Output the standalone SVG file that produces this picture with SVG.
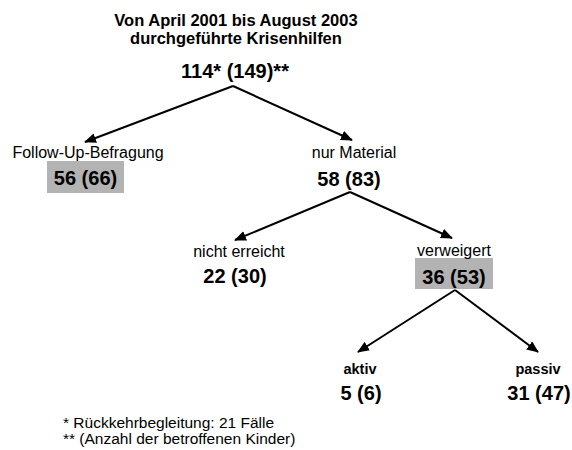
<svg xmlns="http://www.w3.org/2000/svg" width="572" height="450" viewBox="0 0 572 450">
<style>
text{font-family:"Liberation Sans",Arial,sans-serif;fill:#000;text-anchor:middle}
.title{font-size:16.5px;font-weight:bold}
.num{font-size:20px;font-weight:bold}
.lab{font-size:16px}
.labb{font-size:14.5px;font-weight:bold}
.foot{font-size:15.5px;text-anchor:start}
.box{fill:#b3b3b3}
.edge{stroke:#000;stroke-width:2;fill:none;marker-end:url(#ah)}
</style>
<defs>
<marker id="ah" markerUnits="userSpaceOnUse" markerWidth="12" markerHeight="10" refX="11" refY="5" orient="auto">
<path d="M0,0 L12,5 L0,10 z" fill="#000"/>
</marker>
</defs>
<rect width="572" height="450" fill="#fff"/>
<g id="title">
<text class="title" x="236" y="26">Von April 2001 bis August 2003</text>
<text class="title" x="236" y="44">durchgeführte Krisenhilfen</text>
</g>
<g id="root">
<text class="num" x="235" y="78">114* (149)**</text>
</g>
<g id="connectors">
<line class="edge" x1="233" y1="86" x2="85" y2="142"/>
<line class="edge" x1="233" y1="86" x2="352" y2="140"/>
<line class="edge" x1="350" y1="192" x2="235" y2="240"/>
<line class="edge" x1="350" y1="192" x2="452" y2="238"/>
<line class="edge" x1="455" y1="290" x2="358" y2="352"/>
<line class="edge" x1="455" y1="290" x2="538" y2="352"/>
</g>
<g id="followup">
<text class="lab" x="88" y="158">Follow-Up-Befragung</text>
<rect class="box" x="47" y="161" width="77" height="32"/>
<text class="num" x="85.5" y="185">56 (66)</text>
</g>
<g id="material">
<text class="lab" x="354" y="158">nur Material</text>
<text class="num" x="349" y="186">58 (83)</text>
</g>
<g id="nichterreicht">
<text class="lab" x="239" y="257">nicht erreicht</text>
<text class="num" x="235" y="283">22 (30)</text>
</g>
<g id="verweigert">
<rect class="box" x="415" y="258" width="78" height="31"/>
<text class="lab" x="454" y="256">verweigert</text>
<text class="num" x="454" y="284">36 (53)</text>
</g>
<g id="aktiv">
<text class="labb" x="360" y="374">aktiv</text>
<text class="num" x="361" y="400">5 (6)</text>
</g>
<g id="passiv">
<text class="labb" x="538" y="374">passiv</text>
<text class="num" x="539" y="400">31 (47)</text>
</g>
<g id="footnotes">
<text class="foot" x="63" y="428">* Rückkehrbegleitung: 21 Fälle</text>
<text class="foot" x="63" y="444">** (Anzahl der betroffenen Kinder)</text>
</g>
</svg>
